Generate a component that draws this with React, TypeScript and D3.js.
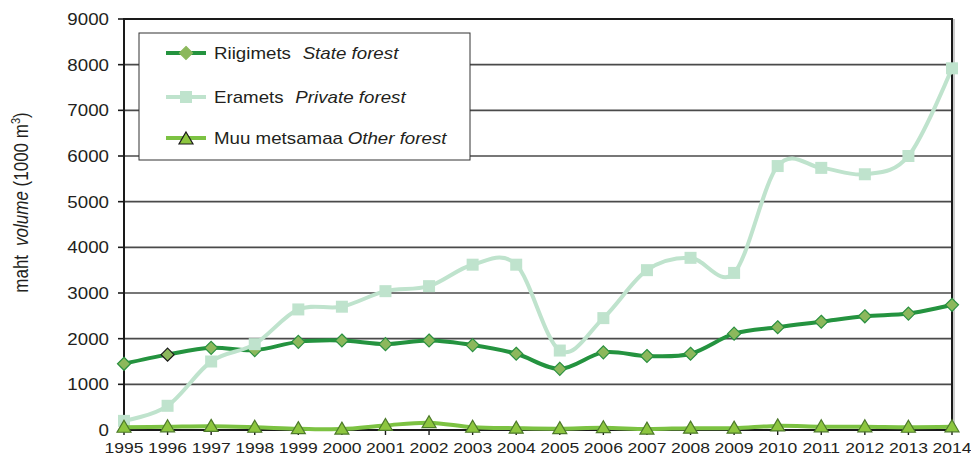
import { useEffect, useRef } from "react"
import * as d3 from "d3"

const years = [1995, 1996, 1997, 1998, 1999, 2000, 2001, 2002, 2003, 2004, 2005, 2006, 2007, 2008, 2009, 2010, 2011, 2012, 2013, 2014]
const stateForest = [1450, 1650, 1800, 1750, 1930, 1960, 1880, 1960, 1860, 1670, 1340, 1700, 1620, 1670, 2110, 2250, 2370, 2490, 2550, 2740]
const privateForest = [200, 530, 1500, 1880, 2640, 2700, 3040, 3150, 3620, 3620, 1740, 2450, 3500, 3770, 3440, 5780, 5740, 5600, 6000, 7920]
const otherForest = [60, 70, 80, 60, 30, 20, 100, 160, 60, 40, 30, 50, 20, 40, 40, 90, 70, 70, 60, 70]
const yTicks = [0, 1000, 2000, 3000, 4000, 5000, 6000, 7000, 8000, 9000]

const seriesNames = [
  { name: "Riigimets", en: "State forest" },
  { name: "Eramets", en: "Private forest" },
  { name: "Muu metsamaa", en: "Other forest" },
]

const W = 971
const H = 459
const STRETCH = 1.17

export default function App() {
  const svgRef = useRef<SVGSVGElement>(null)

  useEffect(() => {
    if (!svgRef.current) return
    document.body.style.margin = "0"
    const svg = d3.select(svgRef.current)
    svg.selectAll("*").remove()

    const x = d3.scalePoint<number>().domain(years).range([124, 952])
    const y = d3.scaleLinear().domain([0, 9000]).range([430, 19])
    const font = "'Liberation Sans', Arial, sans-serif"

    // stretched text helper (the source picture is a bit wider than tall)
    const addText = (g: any, tx: number, ty: number, txt: string, size: number, anchor: string) =>
      g.append("text")
        .attr("transform", `translate(${tx},${ty}) scale(${STRETCH},1)`)
        .attr("text-anchor", anchor)
        .attr("font-family", font)
        .attr("font-size", size)
        .attr("fill", "#231f20")
        .text(txt)

    // gridlines
    svg.append("g")
      .selectAll("line")
      .data(yTicks.filter(d => d > 0 && d < 9000))
      .enter()
      .append("line")
      .attr("x1", x(1995)!)
      .attr("x2", x(2014)!)
      .attr("y1", d => y(d))
      .attr("y2", d => y(d))
      .attr("stroke", "#4a4a4a")
      .attr("stroke-width", 1.6)

    // frame
    svg.append("rect")
      .attr("x", x(1995)!)
      .attr("y", y(9000))
      .attr("width", x(2014)! - x(1995)!)
      .attr("height", y(0) - y(9000))
      .attr("fill", "none")
      .attr("stroke", "#1a1a1a")
      .attr("stroke-width", 2)
    svg.append("line")
      .attr("x1", x(2014)! + 2).attr("x2", x(2014)! + 2)
      .attr("y1", y(9000)).attr("y2", y(0))
      .attr("stroke", "#bbb").attr("stroke-width", 1.5)

    // y axis ticks + labels
    const yAx = svg.append("g")
    yTicks.forEach(t => {
      yAx.append("line")
        .attr("x1", x(1995)! - 6).attr("x2", x(1995)!)
        .attr("y1", y(t)).attr("y2", y(t))
        .attr("stroke", "#1a1a1a").attr("stroke-width", 1.6)
      addText(yAx, 109, y(t) + 6, String(t), 16, "end")
    })

    // x axis ticks + labels
    const xAx = svg.append("g")
    years.forEach(yr => {
      xAx.append("line")
        .attr("x1", x(yr)!).attr("x2", x(yr)!)
        .attr("y1", y(0)).attr("y2", y(0) + 5)
        .attr("stroke", "#1a1a1a").attr("stroke-width", 1.4)
      addText(xAx, x(yr)!, 453, String(yr), 15, "middle")
    })

    // y axis title
    const yt = svg.append("text")
      .attr("transform", `translate(28,${(107 + 298) / 2}) rotate(-90) scale(1,${STRETCH})`)
      .attr("text-anchor", "middle")
      .attr("font-family", font)
      .attr("font-size", 17)
      .attr("fill", "#231f20")
    yt.append("tspan").text("maht")
    yt.append("tspan").attr("dx", 9).attr("font-style", "italic").text("volume")
    yt.append("tspan").text(" (1000 m")
    yt.append("tspan").attr("font-size", 11).attr("dy", -7).text("3")
    yt.append("tspan").attr("dy", 7).text(")")

    const line = d3.line<number>()
      .x((_, i) => x(years[i])!)
      .y(d => y(d))
      .curve(d3.curveCardinal.tension(0))

    const diamond = (g: any, cx: number, cy: number, stroke: string) =>
      g.append("path")
        .attr("d", `M${cx},${cy - 6.5}L${cx + 6.5},${cy}L${cx},${cy + 6.5}L${cx - 6.5},${cy}Z`)
        .attr("fill", "#8cb85c")
        .attr("stroke", stroke)
        .attr("stroke-width", 1.2)
    const square = (g: any, cx: number, cy: number) =>
      g.append("rect")
        .attr("x", cx - 6).attr("y", cy - 6)
        .attr("width", 12).attr("height", 12)
        .attr("fill", "#bfe3cd")
    const triangle = (g: any, cx: number, cy: number, stroke: string) =>
      g.append("path")
        .attr("d", `M${cx},${cy - 7}L${cx + 7},${cy + 5}L${cx - 7},${cy + 5}Z`)
        .attr("fill", "#8dc63f")
        .attr("stroke", stroke)
        .attr("stroke-width", 1.2)

    // state forest
    const gS = svg.append("g")
    gS.append("path").attr("d", line(stateForest)).attr("fill", "none")
      .attr("stroke", "#24933f").attr("stroke-width", 4)
    stateForest.forEach((v, i) => diamond(gS, x(years[i])!, y(v), i === 1 ? "#1a1a1a" : "#2a9040"))

    // private forest
    const gP = svg.append("g")
    gP.append("path").attr("d", line(privateForest)).attr("fill", "none")
      .attr("stroke", "#bfe3cd").attr("stroke-width", 4)
    privateForest.forEach((v, i) => square(gP, x(years[i])!, y(v)))

    // other forest
    const gO = svg.append("g")
    gO.append("path").attr("d", line(otherForest)).attr("fill", "none")
      .attr("stroke", "#7cc242").attr("stroke-width", 4)
    otherForest.forEach((v, i) => triangle(gO, x(years[i])!, y(v), "#4d7a2a"))

    // legend
    const lg = svg.append("g")
    lg.append("rect")
      .attr("x", 139).attr("y", 33).attr("width", 331).attr("height", 127)
      .attr("fill", "#fff").attr("stroke", "#333").attr("stroke-width", 1)
    const rows = [53, 97, 138]
    const lineColors = ["#24933f", "#bfe3cd", "#7cc242"]
    seriesNames.forEach((s, i) => {
      const ly = rows[i]
      lg.append("line").attr("x1", 166).attr("x2", 206).attr("y1", ly).attr("y2", ly)
        .attr("stroke", lineColors[i]).attr("stroke-width", 4)
      if (i === 0) diamond(lg, 186, ly, "#8cb85c")
      if (i === 1) square(lg, 186, ly)
      if (i === 2) triangle(lg, 186, ly + 1, "#1a1a1a")
      const t = lg.append("text")
        .attr("transform", `translate(214,${ly + 6}) scale(${STRETCH},1)`)
        .attr("font-family", font)
        .attr("font-size", 16)
        .attr("fill", "#231f20")
      t.append("tspan").text(s.name)
      t.append("tspan").attr("dx", i === 2 ? 4 : 10).attr("font-style", "italic").text(s.en)
    })
  }, [])

  return <svg ref={svgRef} width={W} height={H} style={{ display: "block", background: "#fff" }} />
}
